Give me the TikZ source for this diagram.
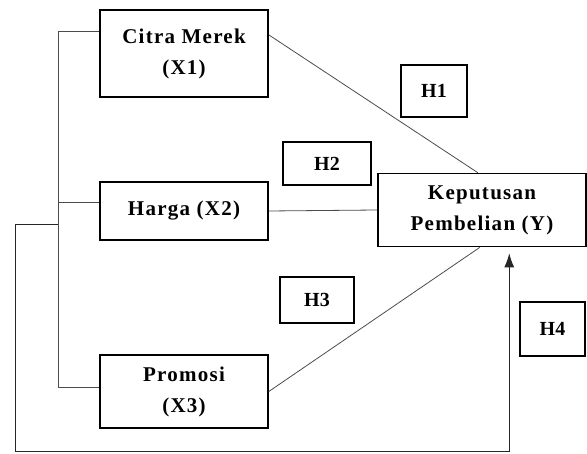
\documentclass[tikz,border=0pt]{standalone}
\usepackage{fontspec}
\setmainfont{Liberation Serif}
\newfontfamily\widefont[LetterSpace=6]{Liberation Serif}
\usetikzlibrary{calc,arrows.meta}

\begin{document}
\begin{tikzpicture}[
    x=1pt, y=-1pt,
    every node/.style={anchor=center},
    var/.style={draw, line width=1.6pt, align=center, inner sep=0pt,
        font=\widefont\fontsize{21}{31}\selectfont\bfseries},
    hypo/.style={draw, line width=1.6pt, inner sep=0pt,
        font=\fontsize{20}{22}\selectfont\bfseries},
    link/.style={draw=black!70, line width=0.8pt},
    arrow/.style={draw=black!85, line width=1pt, shorten >=6pt, -{Latex[length=14pt,width=10pt]}}
    ]
\useasboundingbox (0,0) rectangle (587,454);

% Variables
\node[var, minimum width=168pt, minimum height=87pt] (Citra) at (184,53.5) {Citra Merek\\(X1)};
\node[var, minimum width=168pt, minimum height=58pt] (Harga) at (184,211) {Harga (X2)};
\node[var, minimum width=168pt, minimum height=73pt] (Promosi) at (184,391.5) {Promosi\\(X3)};
\node[var, minimum width=208pt, minimum height=73pt] (Kep) at (482,210) {Keputusan\\Pembelian (Y)};

% Hypotheses
\node[hypo, minimum width=66pt, minimum height=52pt] (H1) at (434,91) {H1};
\node[hypo, minimum width=88pt, minimum height=43pt] (H2) at (327,163.5) {H2};
\node[hypo, minimum width=74pt, minimum height=46pt] (H3) at (317,300) {H3};
\node[hypo, minimum width=65pt, minimum height=54pt] (H4) at (552.5,329) {H4};

% Left bus
\coordinate (bus) at (58,0);
\coordinate (fork) at (58,225);
\coordinate (x1 in) at ($(Citra.north west)!0.25!(Citra.south west)$);
\coordinate (x2 in) at ($(Harga.north west)!0.35!(Harga.south west)$);
\coordinate (x3 in) at ($(Promosi.north west)!0.45!(Promosi.south west)$);
\draw[link] (x1 in) -- (x1 in -| bus) -- (x3 in -| bus) -- (x3 in);
\draw[link] (x2 in) -- (x2 in -| bus);

% Partial effects
\draw[link] ($(Citra.north east)!0.29!(Citra.south east)$) -- ($(Kep.north west)!0.48!(Kep.north east)$);
\draw[link] (Harga.east) -- (Kep.west);
\draw[link] (Promosi.east) -- ($(Kep.south west)!0.49!(Kep.south east)$);

% Simultaneous effect
\coordinate (y in) at ($(Kep.south west)!0.63!(Kep.south east)$);
\draw[arrow] (fork) -| (15,452) -| (y in);

\end{tikzpicture}
\end{document}
